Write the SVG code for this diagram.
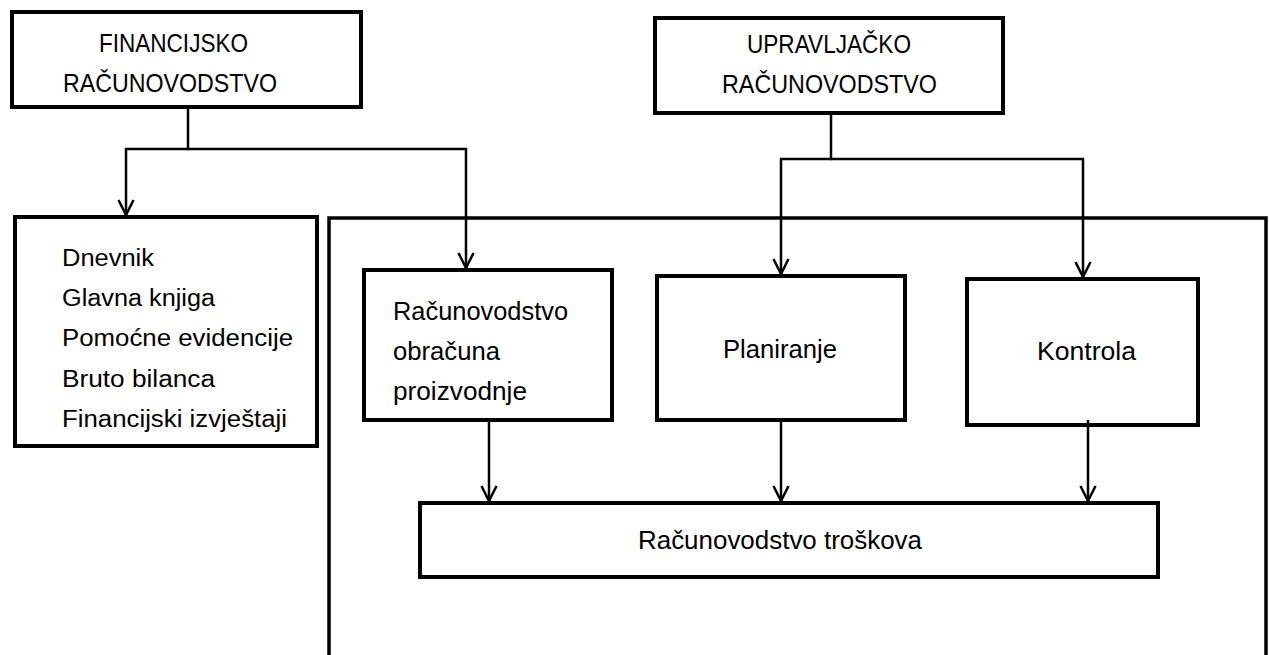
<svg xmlns="http://www.w3.org/2000/svg" width="1269" height="655" viewBox="0 0 1269 655">
<defs>
<style>
.box{fill:#fff;stroke:#000;stroke-width:4}
.big{fill:none;stroke:#000;stroke-width:3.5}
.con{fill:none;stroke:#000;stroke-width:2.5}
text{font-family:"Liberation Sans",Arial,sans-serif;font-size:23px;fill:#000}
.t{font-size:26px}
.m{font-size:25px}
</style>
<marker id="arr" viewBox="-16 -10 20 20" refX="0" refY="0" markerWidth="20" markerHeight="20" markerUnits="userSpaceOnUse" orient="auto" overflow="visible">
<path d="M-15,-7.5 L0,0 L-15,7.5" fill="none" stroke="#000" stroke-width="2.5"/>
</marker>
</defs>
<rect width="1269" height="655" fill="#fff"/>
<g id="container">
<rect class="big" x="329" y="218" width="937" height="460"/>
</g>
<g id="fin">
<rect class="box" x="12" y="12" width="349" height="95"/>
<text class="t" x="99" y="52" textLength="149" lengthAdjust="spacingAndGlyphs">FINANCIJSKO</text>
<text class="t" x="63" y="92" textLength="214" lengthAdjust="spacingAndGlyphs">RAČUNOVODSTVO</text>
</g>
<g id="upr">
<rect class="box" x="655" y="18" width="348" height="95"/>
<text class="t" x="747" y="53" textLength="164" lengthAdjust="spacingAndGlyphs">UPRAVLJAČKO</text>
<text class="t" x="722" y="93" textLength="215" lengthAdjust="spacingAndGlyphs">RAČUNOVODSTVO</text>
</g>
<g id="list">
<rect class="box" x="15" y="217" width="302" height="229"/>
<text x="62" y="266" textLength="92" lengthAdjust="spacingAndGlyphs">Dnevnik</text>
<text x="62" y="306" textLength="153" lengthAdjust="spacingAndGlyphs">Glavna knjiga</text>
<text x="62" y="346" textLength="231" lengthAdjust="spacingAndGlyphs">Pomoćne evidencije</text>
<text x="62" y="387" textLength="153" lengthAdjust="spacingAndGlyphs">Bruto bilanca</text>
<text x="62" y="427" textLength="225" lengthAdjust="spacingAndGlyphs">Financijski izvještaji</text>
</g>
<g id="obracun">
<rect class="box" x="364" y="270" width="248" height="150"/>
<text class="m" x="393" y="320" textLength="175" lengthAdjust="spacingAndGlyphs">Računovodstvo</text>
<text class="m" x="393" y="360" textLength="107" lengthAdjust="spacingAndGlyphs">obračuna</text>
<text class="m" x="393" y="400" textLength="134" lengthAdjust="spacingAndGlyphs">proizvodnje</text>
</g>
<g id="plan">
<rect class="box" x="657" y="276" width="248" height="144"/>
<text class="m" x="723" y="358" textLength="114" lengthAdjust="spacingAndGlyphs">Planiranje</text>
</g>
<g id="kontrola">
<rect class="box" x="967" y="279" width="231" height="146"/>
<text class="m" x="1037" y="360" textLength="99" lengthAdjust="spacingAndGlyphs">Kontrola</text>
</g>
<g id="troskovi">
<rect class="box" x="420" y="503" width="738" height="74"/>
<text class="m" x="638" y="549" textLength="284" lengthAdjust="spacingAndGlyphs">Računovodstvo troškova</text>
</g>
<g id="connectors">
<path class="con" d="M188,108 V149 H126 V215" marker-end="url(#arr)"/>
<path class="con" d="M188,149 H466 V268" marker-end="url(#arr)"/>
<path class="con" d="M831,115 V159 H781 V274" marker-end="url(#arr)"/>
<path class="con" d="M831,159 H1083 V277" marker-end="url(#arr)"/>
<path class="con" d="M489,422 V501" marker-end="url(#arr)"/>
<path class="con" d="M781,422 V501" marker-end="url(#arr)"/>
<path class="con" d="M1088,420 V501" marker-end="url(#arr)"/>
</g>
</svg>
